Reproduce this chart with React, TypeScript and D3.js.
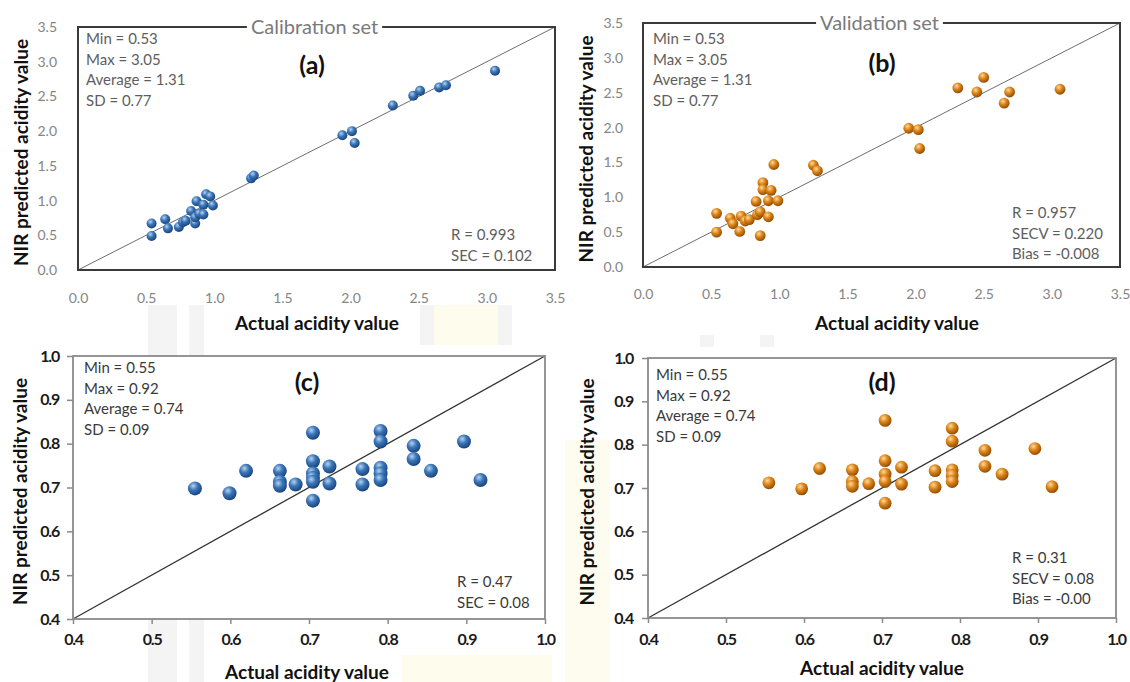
import React, { useRef, useEffect } from "react";
import * as d3 from "d3";

// (a) calibration set, 0-3.5 scale
const calActual = [0.54, 0.54, 0.64, 0.66, 0.74, 0.77, 0.79, 0.83, 0.86, 0.86, 0.87, 0.89, 0.92, 0.92, 0.94, 0.97, 0.99, 1.27, 1.29, 1.94, 2.01, 2.03, 2.31, 2.46, 2.51, 2.65, 2.7, 3.06];
const calPredicted = [0.67, 0.49, 0.73, 0.6, 0.62, 0.69, 0.71, 0.85, 0.67, 0.76, 0.99, 0.81, 0.8, 0.94, 1.09, 1.06, 0.93, 1.32, 1.36, 1.94, 2.0, 1.83, 2.37, 2.51, 2.58, 2.63, 2.66, 2.87];

// (b) validation set, 0-3.5 scale
const valActual = [0.54, 0.54, 0.64, 0.66, 0.72, 0.71, 0.75, 0.78, 0.83, 0.84, 0.86, 0.86, 0.88, 0.88, 0.92, 0.92, 0.94, 0.96, 0.99, 1.25, 1.28, 1.95, 2.02, 2.03, 2.31, 2.45, 2.5, 2.65, 2.69, 3.06];
const valPredicted = [0.77, 0.5, 0.7, 0.62, 0.73, 0.51, 0.66, 0.68, 0.94, 0.75, 0.79, 0.45, 1.21, 1.11, 0.95, 0.72, 1.1, 1.47, 0.95, 1.46, 1.38, 1.99, 1.97, 1.7, 2.57, 2.51, 2.72, 2.35, 2.51, 2.55];

// (c) calibration set, 0.4-1.0 scale
const calSmallActual = [0.555, 0.599, 0.62, 0.663, 0.663, 0.663, 0.683, 0.705, 0.705, 0.705, 0.705, 0.705, 0.705, 0.726, 0.726, 0.768, 0.768, 0.791, 0.791, 0.791, 0.791, 0.791, 0.833, 0.833, 0.855, 0.897, 0.918];
const calSmallPredicted = [0.698, 0.687, 0.738, 0.738, 0.713, 0.704, 0.707, 0.825, 0.76, 0.732, 0.722, 0.713, 0.67, 0.748, 0.709, 0.742, 0.707, 0.829, 0.805, 0.745, 0.732, 0.717, 0.795, 0.765, 0.738, 0.805, 0.717];

// (d) validation set, 0.4-1.0 scale
const valSmallActual = [0.555, 0.597, 0.62, 0.662, 0.662, 0.662, 0.683, 0.704, 0.704, 0.704, 0.704, 0.704, 0.725, 0.725, 0.768, 0.768, 0.79, 0.79, 0.79, 0.79, 0.79, 0.832, 0.832, 0.854, 0.896, 0.918];
const valSmallPredicted = [0.712, 0.698, 0.745, 0.742, 0.715, 0.704, 0.71, 0.856, 0.763, 0.732, 0.715, 0.665, 0.748, 0.709, 0.74, 0.702, 0.838, 0.808, 0.742, 0.729, 0.715, 0.787, 0.75, 0.732, 0.791, 0.703];

const wideTicks = [0, 0.5, 1.0, 1.5, 2.0, 2.5, 3.0, 3.5];
const narrowTicks = [0.4, 0.5, 0.6, 0.7, 0.8, 0.9, 1.0];

const statsWide = ["Min = 0.53", "Max = 3.05", "Average = 1.31", "SD = 0.77"];
const statsNarrow = ["Min = 0.55", "Max = 0.92", "Average = 0.74", "SD = 0.09"];
const fitA = ["R = 0.993", "SEC = 0.102"];
const fitB = ["R = 0.957", "SECV = 0.220", "Bias = -0.008"];
const fitC = ["R = 0.47", "SEC = 0.08"];
const fitD = ["R = 0.31", "SECV = 0.08", "Bias = -0.00"];

const FONT = "Lato, 'Open Sans', sans-serif";

const panels = [
  {
    tag: "(a)", title: "Calibration set", xs: calActual, ys: calPredicted,
    domain: [0, 3.5], ticks: wideTicks, box: [78, 555, 27, 270], style: "light",
    grad: "blueBall", r: 5, stats: statsWide, statsAt: [86, 39], fit: fitA, fitAt: [451, 235],
    tagAt: [312, 65], xTitleAt: [317, 323], yTitleX: 21, xPad: 23, yPad: 21,
  },
  {
    tag: "(b)", title: "Validation set", xs: valActual, ys: valPredicted,
    domain: [0, 3.5], ticks: wideTicks, box: [643, 1120, 23, 267], style: "light",
    grad: "orangeBall", r: 5.4, stats: statsWide, statsAt: [653, 39], fit: fitB, fitAt: [1012, 213],
    tagAt: [882, 63], xTitleAt: [897, 323], yTitleX: 586, xPad: 22, yPad: 20,
  },
  {
    tag: "(c)", title: "", xs: calSmallActual, ys: calSmallPredicted,
    domain: [0.4, 1.0], ticks: narrowTicks, box: [73, 545, 356, 619], style: "bold",
    grad: "blueBall", r: 7, stats: statsNarrow, statsAt: [84, 368], fit: fitC, fitAt: [457, 582],
    tagAt: [307, 382], xTitleAt: [307, 672], yTitleX: 20, xPad: 10, yPad: 8,
  },
  {
    tag: "(d)", title: "", xs: valSmallActual, ys: valSmallPredicted,
    domain: [0.4, 1.0], ticks: narrowTicks, box: [648, 1116, 358, 618], style: "bold",
    grad: "orangeBall", r: 6.4, stats: statsNarrow, statsAt: [656, 375], fit: fitD, fitAt: [1012, 558],
    tagAt: [882, 382], xTitleAt: [882, 668], yTitleX: 587, xPad: 11, yPad: 9,
  },
];

const App = () => {
  const ref = useRef<SVGSVGElement | null>(null);

  useEffect(() => {
    const svg = d3.select(ref.current);
    svg.selectAll("*").remove();

    const defs = svg.append("defs");
    const addBall = (id: string, stops: string[]) => {
      const g = defs.append("radialGradient").attr("id", id)
        .attr("cx", "38%").attr("cy", "32%").attr("r", "70%");
      g.append("stop").attr("offset", "0%").attr("stop-color", stops[0]);
      g.append("stop").attr("offset", "45%").attr("stop-color", stops[1]);
      g.append("stop").attr("offset", "100%").attr("stop-color", stops[2]);
    };
    addBall("blueBall", ["#b5d2f2", "#3a76b8", "#1a417a"]);
    addBall("orangeBall", ["#ffd9a0", "#dd8618", "#8f4a04"]);

    // faint watermark behind the figure
    const wm = svg.append("g");
    [[148, 305, 29, 377, "#f4f4f4"], [189, 305, 15, 377, "#f4f4f4"], [420, 305, 14, 40, "#f4f4f4"],
     [434, 305, 64, 40, "#fefcec"], [498, 305, 14, 40, "#f4f4f4"], [402, 655, 150, 27, "#fefcec"],
     [565, 440, 45, 242, "#fefcee"], [700, 335, 14, 12, "#f4f4f4"], [760, 335, 14, 12, "#f4f4f4"]]
      .forEach(([x, y, w, h, c]) => {
        wm.append("rect").attr("x", x).attr("y", y).attr("width", w).attr("height", h).attr("fill", c as string);
      });

    panels.forEach((p) => {
      const [bx0, bx1, by0, by1] = p.box;
      const light = p.style === "light";
      const x = d3.scaleLinear().domain(p.domain).range([bx0, bx1]);
      const y = d3.scaleLinear().domain(p.domain).range([by1, by0]);
      const g = svg.append("g");

      g.append("rect").attr("x", bx0).attr("y", by0).attr("width", bx1 - bx0).attr("height", by1 - by0)
        .attr("fill", "#fff");

      // axes (labels only for the light panels, outward ticks for the bold ones)
      const fmt = d3.format(".1f");
      const xAxis = d3.axisBottom(x).tickValues(p.ticks).tickFormat((d) => fmt(d as number))
        .tickSize(light ? 0 : 5).tickPadding(p.xPad);
      const yAxis = d3.axisLeft(y).tickValues(p.ticks).tickFormat((d) => fmt(d as number))
        .tickSize(light ? 0 : 6).tickPadding(p.yPad);
      [g.append("g").attr("transform", `translate(0,${by1})`).call(xAxis),
       g.append("g").attr("transform", `translate(${bx0},0)`).call(yAxis)].forEach((ax) => {
        ax.select(".domain").remove();
        ax.selectAll("line").attr("stroke", "#8a8a8a").attr("stroke-width", 1.5);
        ax.selectAll("text")
          .attr("font-family", FONT)
          .attr("font-size", light ? 14 : 16)
          .attr("font-weight", light ? 400 : 700)
          .attr("letter-spacing", light ? 0 : -1.2)
          .attr("fill", light ? "#858585" : "#1a1a1a");
      });

      // 1:1 line
      g.append("line")
        .attr("x1", x(p.domain[0])).attr("y1", y(p.domain[0]))
        .attr("x2", x(p.domain[1])).attr("y2", y(p.domain[1]))
        .attr("stroke", light ? "#6e6e6e" : "#333").attr("stroke-width", light ? 1 : 1.3);

      g.append("rect").attr("x", bx0).attr("y", by0).attr("width", bx1 - bx0).attr("height", by1 - by0)
        .attr("fill", "none").attr("stroke", light ? "#3a3a3a" : "#8a8a8a").attr("stroke-width", light ? 2 : 1.8);

      if (p.title) {
        const cx = (bx0 + bx1) / 2 - 2;
        const t = g.append("text").attr("x", cx).attr("y", by0).attr("dy", "0.35em")
          .attr("text-anchor", "middle").attr("font-family", FONT).attr("font-size", 20)
          .attr("fill", "#7a7a7a").text(p.title);
        const w = (t.node() as SVGTextElement).getComputedTextLength();
        g.insert("rect", () => t.node() as any)
          .attr("x", cx - w / 2 - 4).attr("y", by0 - 4).attr("width", w + 8).attr("height", 8).attr("fill", "#fff");
      }

      g.append("text").attr("x", p.tagAt[0]).attr("y", p.tagAt[1]).attr("dy", "0.35em")
        .attr("text-anchor", "middle").attr("font-family", FONT).attr("font-size", 25)
        .attr("font-weight", 700).attr("fill", "#111").text(p.tag);

      const txtFill = light ? "#5e5e5e" : "#3a3a3a";
      g.append("g").selectAll("text").data(p.stats).join("text")
        .attr("x", p.statsAt[0]).attr("y", (_, i) => p.statsAt[1] + i * 20.5).attr("dy", "0.35em")
        .attr("font-family", FONT).attr("font-size", 15).attr("fill", txtFill).text((d) => d);
      g.append("g").selectAll("text").data(p.fit).join("text")
        .attr("x", p.fitAt[0]).attr("y", (_, i) => p.fitAt[1] + i * 20.5).attr("dy", "0.35em")
        .attr("font-family", FONT).attr("font-size", 15).attr("fill", txtFill).text((d) => d);

      g.append("g").selectAll("circle").data(p.xs).join("circle")
        .attr("cx", (d) => x(d)).attr("cy", (_, i) => y(p.ys[i])).attr("r", p.r)
        .attr("fill", `url(#${p.grad})`);

      g.append("text").attr("x", p.xTitleAt[0]).attr("y", p.xTitleAt[1]).attr("dy", "0.35em")
        .attr("text-anchor", "middle").attr("font-family", FONT).attr("font-size", 19)
        .attr("font-weight", 700).attr("fill", "#111").text("Actual acidity value");
      g.append("text")
        .attr("transform", `translate(${p.yTitleX},${(by0 + by1) / 2 + 4}) rotate(-90)`)
        .attr("dy", "0.35em").attr("text-anchor", "middle").attr("font-family", FONT)
        .attr("font-size", 19).attr("font-weight", 700).attr("fill", "#111")
        .text("NIR predicted acidity value");
    });
  }, []);

  return (
    <svg ref={ref} width={1130} height={682}
      style={{ position: "absolute", left: 0, top: 0, background: "#fff" }} />
  );
};

export default App;
